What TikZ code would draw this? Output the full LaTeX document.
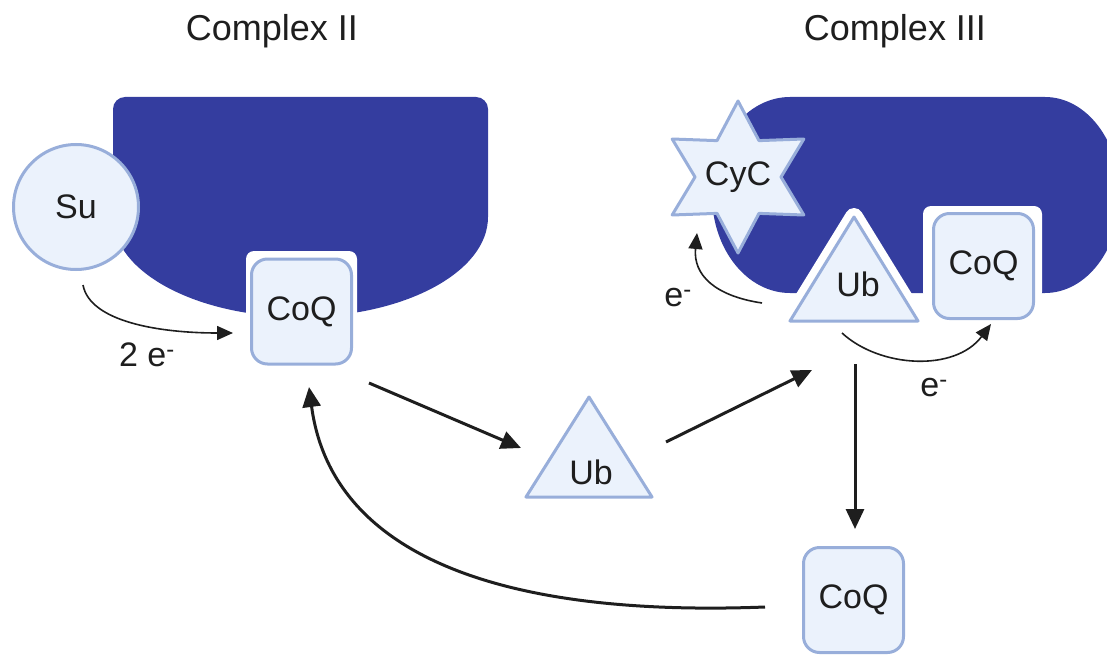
\documentclass[tikz,border=0pt]{standalone}
\usepackage{fontspec}
\setmainfont{Liberation Sans}
\usetikzlibrary{arrows.meta}
\definecolor{cxblue}{HTML}{343D9F}
\definecolor{lfill}{HTML}{EBF2FC}
\definecolor{lstroke}{HTML}{98AEDA}
\definecolor{ink}{HTML}{1E1E1E}
\begin{document}
\begin{tikzpicture}[x=1pt,y=1pt,
 mol/.style={fill=lfill,draw=lstroke,line width=3pt,line join=round},
 lbl/.style={font=\fontsize{34}{34}\selectfont, text=ink, inner sep=0pt},
 titlelbl/.style={font=\fontsize{36}{36}\selectfont, text=ink, inner sep=0pt},
 coqbox/.style={mol, rounded corners=16pt, minimum width=100pt, minimum height=105pt, inner sep=0pt,
   font=\fontsize{34}{34}\selectfont, text=ink},
 notch/.style={fill=white, rounded corners=8pt},
 bigarrow/.style={draw=ink, line width=3pt, -{Triangle[length=20pt,width=18pt]}},
 smallarrow/.style={draw=ink, line width=1.6pt, -{Triangle[length=16pt,width=14pt]}},
]
\useasboundingbox (0,0) rectangle (1107,-655);
\begin{scope}
\clip (0,0) rectangle (1107,-655);
% Complex II body
\fill[cxblue] (125,-97) -- (476,-97) arc[start angle=90,end angle=0,radius=12]
  -- (488,-217) arc[start angle=0,end angle=-180,x radius=187.5,y radius=100]
  -- (113,-109) arc[start angle=180,end angle=90,radius=12] -- cycle;
\fill[notch] (246,-251) rectangle (357,-345);
% Complex III body
\fill[cxblue] (790,-97) -- (1045,-97) arc[start angle=90,end angle=-90,x radius=75,y radius=98]
  -- (790,-293) arc[start angle=270,end angle=90,x radius=78,y radius=98] -- cycle;
\fill[notch] (923,-206) rectangle (1042,-300);
\end{scope}

% titles
\node[titlelbl] (t2) at (272,-31) {Complex II};
\node[titlelbl] (t3) at (895,-31) {Complex III};

% Complex II members
\node[mol, circle, minimum size=125pt, inner sep=0pt, font=\fontsize{34}{34}\selectfont, text=ink] (su) at (76,-207) {Su};
\node[coqbox] (coq2) at (301.5,-311.5) {CoQ};

% Complex III members
\begin{scope}[shift={(738,-177)}]
\draw[mol] (90:76) -- (120:42) -- (150:76) -- (180:43) -- (210:76) -- (240:42)
  -- (270:76) -- (300:42) -- (330:76) -- (0:43) -- (30:76) -- (60:42) -- cycle;
\end{scope}
\node[lbl] (cyc) at (738,-177) {CyC};
\draw[white, line width=18pt, line join=round, fill=white] (854,-217) -- (918,-321) -- (790,-321) -- cycle;
\draw[mol] (854,-217) -- (918,-321) -- (790,-321) -- cycle;
\node[lbl] (ub3) at (858,-284) {Ub};
\node[coqbox] (coq3) at (983.5,-266) {CoQ};

% free Ub and CoQ
\draw[mol] (589,-397) -- (652,-497) -- (526,-497) -- cycle;
\node[lbl] (ub) at (591,-472) {Ub};
\node[coqbox] (coq4) at (853.5,-600) {CoQ};

% connector end points
\coordinate (suout) at (83,-285);
\coordinate (coq2in) at (233,-333);
\coordinate (coq2out) at (369,-383);
\coordinate (ubin) at (521,-448);
\coordinate (ubout) at (666,-442);
\coordinate (c3in) at (812,-370);
\coordinate (c3out) at (855,-364);
\coordinate (coq4in) at (855,-529);
\coordinate (coq4out) at (765,-607);
\coordinate (coq2back) at (309,-387);
\coordinate (ubl) at (762,-303);
\coordinate (cycin) at (697,-233);
\coordinate (ubr) at (842,-333);
\coordinate (coq3in) at (991,-324);

% arrows
\draw[smallarrow] (suout) .. controls (90,-322) and (160,-333) .. (coq2in);
\draw[bigarrow] (coq2out) -- (ubin);
\draw[bigarrow] (ubout) -- (c3in);
\draw[bigarrow] (c3out) -- (coq4in);
\draw[bigarrow] (coq4out) .. controls (480,-618) and (330,-545) .. (coq2back);
\draw[smallarrow] (ubl) .. controls (715,-296) and (693,-275) .. (cycin);
\draw[smallarrow] (ubr) .. controls (880,-368) and (955,-372) .. (coq3in);

% electron labels
\node[lbl] (e2) at (147,-355) {2 e\textsuperscript{-}};
\node[lbl] (el) at (678,-298) {e\textsuperscript{-}};
\node[lbl] (er) at (934,-388) {e\textsuperscript{-}};
\end{tikzpicture}
\end{document}
